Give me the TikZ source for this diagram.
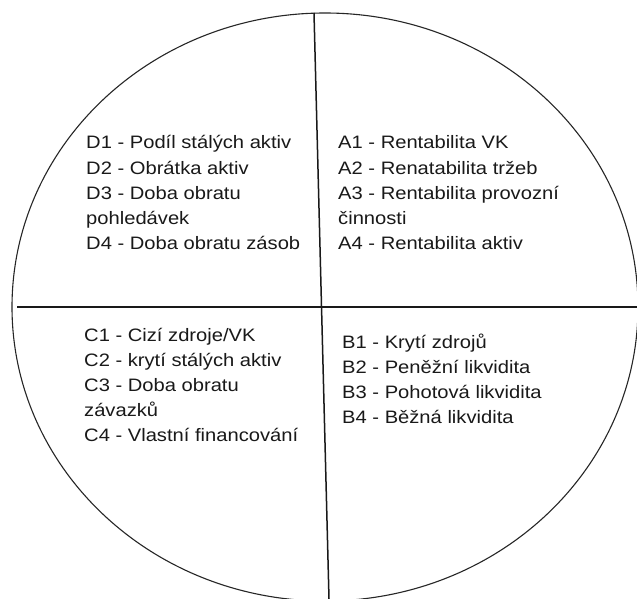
\documentclass[tikz,border=0pt]{standalone}
\usepackage{fontspec}
\newfontfamily\wfont[FakeStretch=1.12]{Liberation Sans}
\begin{document}
\begin{tikzpicture}[x=1pt,y=-1pt,
  rim/.style={line width=1.1pt,draw=black!85},
  divider/.style={line width=1.5pt,draw=black!90},
  lbl/.style={anchor=base west,inner sep=0pt,font=\wfont\fontsize{18}{25}\selectfont,text=black!90}]
\useasboundingbox (0,0) rectangle (637,599);
\clip (0,0) rectangle (637,599);
\fill[white] (0,0) rectangle (637,599);
\draw[rim] (325,307) ellipse [x radius=313, y radius=294];
\coordinate (vt) at (314,13);
\coordinate (vb) at (329,599);
\coordinate (hl) at (17,307);
\coordinate (hr) at (637,307);
\draw[divider] (vt) -- (vb);
\draw[divider] (hl) -- (hr);
% D block
\node[lbl] (d1) at (86,149) {D1 - Podíl stálých aktiv};
\node[lbl] (d2) at (86,174) {D2 - Obrátka aktiv};
\node[lbl] (d3) at (86,199) {D3 - Doba obratu};
\node[lbl] (d3b) at (86,224) {pohledávek};
\node[lbl] (d4) at (86,249) {D4 - Doba obratu zásob};
% A block
\node[lbl] (a1) at (338,149) {A1 - Rentabilita VK};
\node[lbl] (a2) at (338,174) {A2 - Renatabilita tržeb};
\node[lbl] (a3) at (338,199) {A3 - Rentabilita provozní};
\node[lbl] (a3b) at (338,224) {činnosti};
\node[lbl] (a4) at (338,249) {A4 - Rentabilita aktiv};
% C block
\node[lbl] (c1) at (84,341) {C1 - Cizí zdroje/VK};
\node[lbl] (c2) at (84,366) {C2 - krytí stálých aktiv};
\node[lbl] (c3) at (84,391) {C3 - Doba obratu};
\node[lbl] (c3b) at (84,416) {závazků};
\node[lbl] (c4) at (84,441) {C4 - Vlastní financování};
% B block
\node[lbl] (b1) at (342,348) {B1 - Krytí zdrojů};
\node[lbl] (b2) at (342,373) {B2 - Peněžní likvidita};
\node[lbl] (b3) at (342,398) {B3 - Pohotová likvidita};
\node[lbl] (b4) at (342,423) {B4 - Běžná likvidita};
\end{tikzpicture}
\end{document}
